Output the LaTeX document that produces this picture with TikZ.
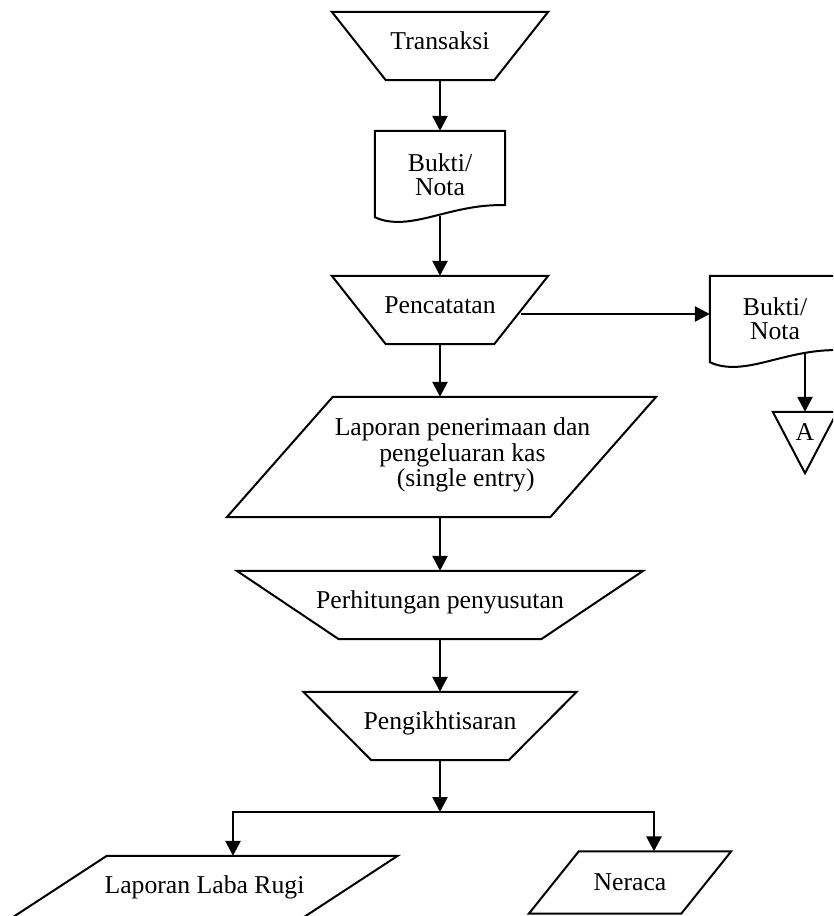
\documentclass[tikz,border=0pt]{standalone}
\usepackage{fontspec}
\setmainfont{Liberation Serif}
\usetikzlibrary{arrows.meta,calc}

\tikzset{
  garis/.style={line width=2pt},
  panah/.style={-{Triangle[length=15pt,width=15pt]}, line width=2.6pt},
  kotak/.style={inner sep=0pt, align=center},
  proses/.style={kotak, minimum height=68pt, text height=18pt, text depth=12pt},
  dok/.style={kotak, minimum width=130pt, minimum height=80pt},
}

% bentuk-bentuk bagan alir
\newcommand\bentukmanual[2]{%
  \draw[garis] (#1.north west) -- (#1.north east) -- ([xshift=-#2]#1.south east)
    -- ([xshift=#2]#1.south west) -- cycle;}
\newcommand\bentukio[2]{%
  \draw[garis] ([xshift=#2]#1.north west) -- (#1.north east) -- ([xshift=-#2]#1.south east)
    -- (#1.south west) -- cycle;}
\newcommand\bentukdok[1]{%
  \draw[garis] ([yshift=-6pt]#1.south west) -- (#1.north west) -- (#1.north east) -- ([yshift=6pt]#1.south east)
    .. controls ([shift={(-55pt,8pt)}]#1.south east) and ([shift={(35pt,-22pt)}]#1.south west) .. ([yshift=-6pt]#1.south west) -- cycle;}

\begin{document}
\begin{tikzpicture}[x=1pt, y=-1pt, font=\fontsize{25.7}{24}\selectfont]
  \useasboundingbox (0,0) rectangle (833,916);
  \clip (0,0) rectangle (833,916);

  \node[proses, minimum width=216pt] (transaksi) at (440,46) {Transaksi};
  \node[dok, label={[align=center, yshift=-4pt]center:{Bukti/\\Nota}}] (bukti) at (440,171) {};
  \node[proses, minimum width=216pt] (catat) at (440,310) {Pencatatan};
  \node[dok, label={[align=center, yshift=-3pt]center:{Bukti/\\Nota}}] (bukti2) at (775,316) {};
  \node[kotak, minimum width=64pt, minimum height=40pt] (konektor) at (805,432) {A};
  \node[kotak, minimum width=429pt, minimum height=120pt,
    label={[align=center, xshift=21pt, yshift=2pt]center:{Laporan penerimaan dan\\[1.5pt]pengeluaran kas\\[1.5pt]\ (single entry)}}]
    (laporan) at (441.5,457) {};
  \node[proses, minimum width=406pt] (perhitungan) at (440,605) {Perhitungan penyusutan};
  \node[proses, minimum width=273pt] (ikhtisar) at (440,726) {Pengikhtisaran};
  \node[kotak, minimum width=386pt, minimum height=62pt] (labarugi) at (204.5,887) {Laporan Laba Rugi};
  \node[kotak, minimum width=202pt, minimum height=62pt] (neraca) at (630,882.5) {Neraca};

  \bentukmanual{transaksi}{54pt}
  \bentukdok{bukti}
  \bentukmanual{catat}{54pt}
  \bentukdok{bukti2}
  \draw[garis] (konektor.north west) -- (konektor.north east) -- ([yshift=-21pt]konektor.south) -- cycle;
  \bentukio{laporan}{106pt}
  \bentukmanual{perhitungan}{102pt}
  \bentukmanual{ikhtisar}{68pt}
  \bentukio{labarugi}{95.5pt}
  \bentukio{neraca}{50pt}

  %% panah
  \draw[panah] (transaksi.south) -- (bukti.north);
  \draw[panah] ($(bukti.south)+(0,4.5)$) -- (catat.north);
  \draw[panah] ($(catat.east)+(-27,4)$) -- ($(catat.east -| bukti2.west)+(0,4)$);
  \draw[panah] ($(bukti2.south -| konektor.north)+(0,-3)$) -- (konektor.north);
  \draw[panah] (catat.south) -- (catat.south |- laporan.north);
  \draw[panah] (perhitungan.north |- laporan.south) -- (perhitungan.north);
  \draw[panah] (perhitungan.south) -- (ikhtisar.north);

  \coordinate (cabang) at (440,812);
  \coordinate (kiri) at (233,812);
  \coordinate (kanan) at (654,812);
  \draw[panah] (ikhtisar.south) -- (cabang);
  \draw[panah] (cabang) -| (kiri |- labarugi.north);
  \draw[panah] (cabang) -| (kanan |- neraca.north);
\end{tikzpicture}
\end{document}
